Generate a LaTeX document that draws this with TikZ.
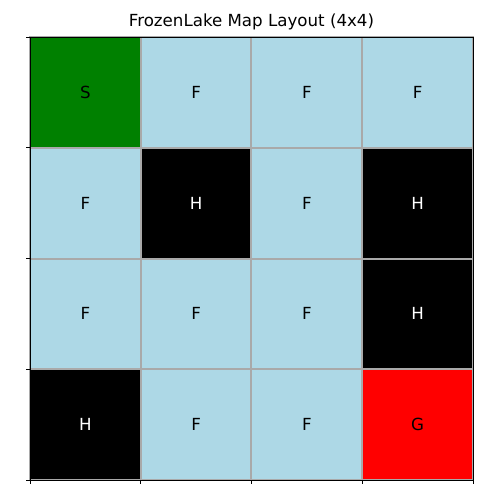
\documentclass[tikz,border=0pt]{standalone}
\usepackage{fontspec}
\setmainfont{DejaVu Sans}
\definecolor{lblue}{HTML}{ADD8E6}
\definecolor{mgreen}{HTML}{008000}
\definecolor{gridgray}{HTML}{A9A9A9}
\begin{document}
\begin{tikzpicture}[x=0.5pt,y=-0.5pt,
  cell/.style={draw=gridgray,line width=1pt,minimum size=55.375pt,inner sep=0pt,anchor=center,font=\fontsize{8.33}{10}\selectfont},
  frozen/.style={cell,fill=lblue,text=black},
  hole/.style={cell,fill=black,text=white},
  start/.style={cell,fill=mgreen,text=black},
  goal/.style={cell,fill=red,text=black},
  tick/.style={line width=0.4pt}]
\useasboundingbox (0,0) rectangle (500,500);
\fill[white] (0,0) rectangle (500,500);
% row 0
\node[start]  (c00) at (85.375,92.375) {S};
\node[frozen] (c01) at (196.125,92.375) {F};
\node[frozen] (c02) at (306.875,92.375) {F};
\node[frozen] (c03) at (417.625,92.375) {F};
% row 1
\node[frozen] (c10) at (85.375,203.125) {F};
\node[hole]   (c11) at (196.125,203.125) {H};
\node[frozen] (c12) at (306.875,203.125) {F};
\node[hole]   (c13) at (417.625,203.125) {H};
% row 2
\node[frozen] (c20) at (85.375,313.875) {F};
\node[frozen] (c21) at (196.125,313.875) {F};
\node[frozen] (c22) at (306.875,313.875) {F};
\node[hole]   (c23) at (417.625,313.875) {H};
% row 3
\node[hole]   (c30) at (85.375,424.625) {H};
\node[frozen] (c31) at (196.125,424.625) {F};
\node[frozen] (c32) at (306.875,424.625) {F};
\node[goal]   (c33) at (417.625,424.625) {G};
% frame
\draw[line width=0.4pt] (30,37) rectangle (473,480);
% ticks
\foreach \v in {37,147.75,258.5,369.25,480} \draw[tick] (30,\v) -- (26,\v);
\foreach \u in {30,140.75,251.5,362.25,473} \draw[tick] (\u,480) -- (\u,484);
% title
\node[font=\fontsize{8.33}{10}\selectfont] (title) at (251.5,22) {FrozenLake Map Layout (4x4)};
\end{tikzpicture}
\end{document}
